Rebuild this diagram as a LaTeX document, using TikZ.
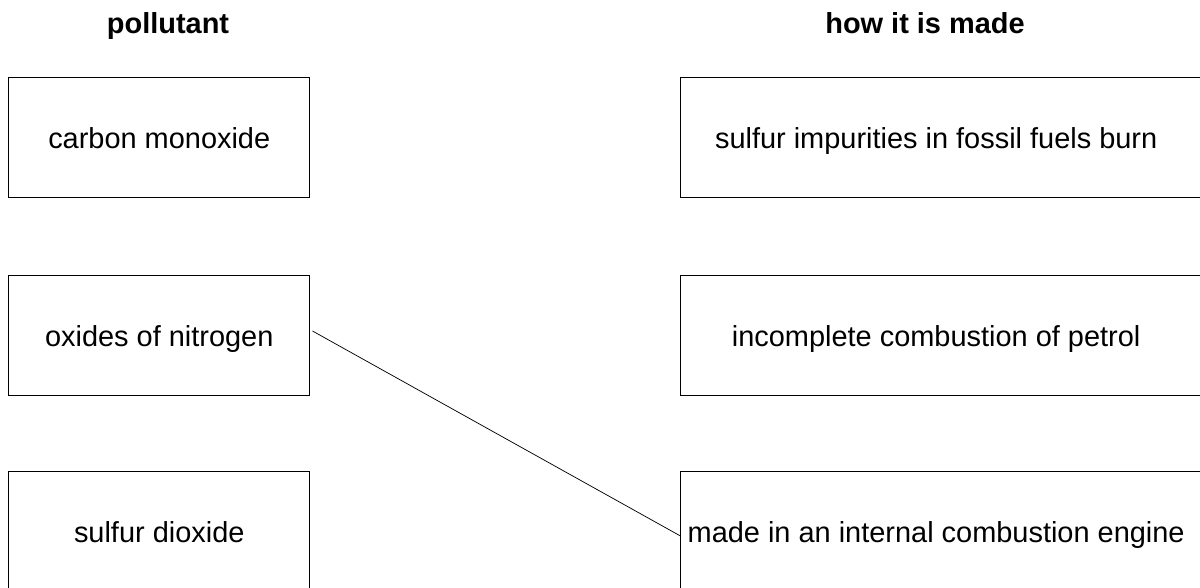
\documentclass[tikz,border=0pt]{standalone}
\usepackage{fontspec}
\setmainfont{Liberation Sans}
\usetikzlibrary{calc}
\begin{document}
\begin{tikzpicture}[x=0.75pt,y=-0.75pt,
  box/.style={draw=black,line width=0.75pt,minimum height=90pt,inner sep=0pt,text height=16.5pt,text depth=0pt,font=\fontsize{21.7pt}{26pt}\selectfont},
  lbox/.style={box,minimum width=226.1pt},
  rbox/.style={box,minimum width=396.8pt},
  head/.style={anchor=base,font=\fontsize{21.7pt}{26pt}\selectfont\bfseries},
  link/.style={draw=black,line width=0.55pt}]
\useasboundingbox (0,0) rectangle (1200,588);
\node[head] (h1) at (168,34) {pollutant};
\node[head] (h2) at (925,34) {how it is made};
\node[lbox] (p1) at (159.25,138) {carbon monoxide};
\node[lbox] (p2) at (159.25,335) {oxides of nitrogen};
\node[lbox] (p3) at (159.25,531) {sulfur dioxide};
\node[rbox] (m1) at (945.5,138) {\hspace*{-14pt}sulfur impurities in fossil fuels burn};
\node[rbox] (m2) at (945.5,335) {\hspace*{-14pt}incomplete combustion of petrol};
\node[rbox] (m3) at (945.5,531) {\hspace*{-14pt}made in an internal combustion engine};
\draw[link] ($(p2.east)+(2,-4)$) -- ($(m3.west)+(0,5)$);
\end{tikzpicture}
\end{document}
